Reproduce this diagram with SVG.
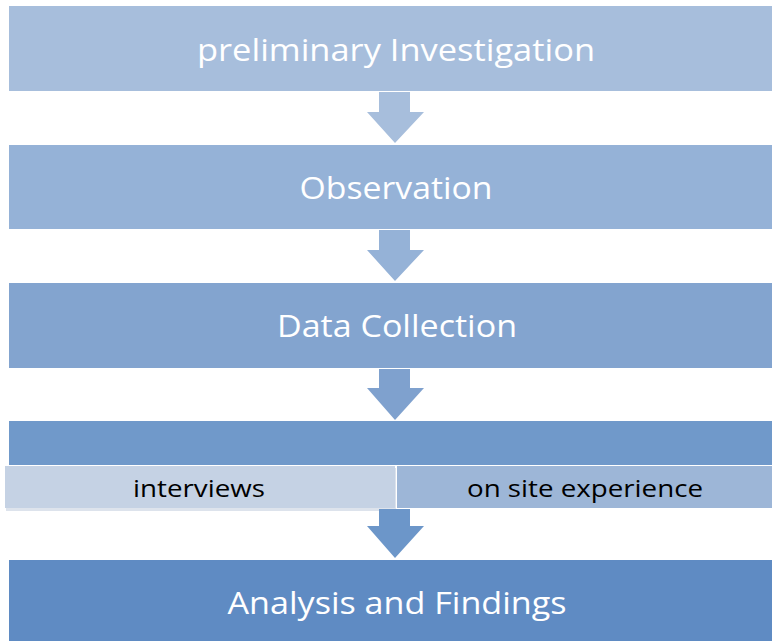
<svg xmlns="http://www.w3.org/2000/svg" width="772" height="641" viewBox="0 0 772 641">
<style>
.t{font-family:"Open Sans","Liberation Sans",sans-serif;font-size:31px;fill:#ffffff;text-anchor:middle}
.s{font-family:"Open Sans","Liberation Sans",sans-serif;font-size:23px;fill:#000000;text-anchor:middle}
</style>
<rect width="772" height="641" fill="#ffffff"/>
<g id="n1"><rect x="9" y="6" width="763" height="85" fill="#A7BEDC"/><text class="t" x="396" y="61" textLength="398" lengthAdjust="spacingAndGlyphs">preliminary Investigation</text></g>
<g id="n2"><rect x="9" y="145" width="763" height="84" fill="#95B2D7"/><text class="t" x="396" y="199" textLength="193" lengthAdjust="spacingAndGlyphs">Observation</text></g>
<g id="n3"><rect x="9" y="283" width="763" height="85" fill="#83A4CF"/><text class="t" x="397" y="337" textLength="240" lengthAdjust="spacingAndGlyphs">Data Collection</text></g>
<g id="n4"><rect x="9" y="421" width="763" height="44" fill="#7099CA"/>
<rect x="6" y="468" width="390" height="43" fill="#dde3ec"/>
<rect x="5" y="466" width="390" height="42" fill="#C5D2E4"/>
<rect x="397" y="466" width="375" height="42" fill="#9DB6D7"/>
<text class="s" x="199" y="497" textLength="132" lengthAdjust="spacingAndGlyphs">interviews</text>
<text class="s" x="585" y="497" textLength="236" lengthAdjust="spacingAndGlyphs">on site experience</text></g>
<g id="n5"><rect x="9" y="560" width="763" height="81" fill="#5F8BC3"/><text class="t" x="397" y="614" textLength="339" lengthAdjust="spacingAndGlyphs">Analysis and Findings</text></g>
<g id="connectors">
<path d="M379 92 H410 V112 H424 L395 143 L367 112 H379 Z" fill="#A7BEDC"/>
<path d="M379 230 H410 V250 H424 L395 281 L367 250 H379 Z" fill="#95B2D7"/>
<path d="M379 369 H410 V388 H424 L395 420 L367 388 H379 Z" fill="#7FA1CE"/>
<path d="M379 509 H410 V526 H424 L395 558 L367 526 H379 Z" fill="#6C96C9"/>
</g>
</svg>
